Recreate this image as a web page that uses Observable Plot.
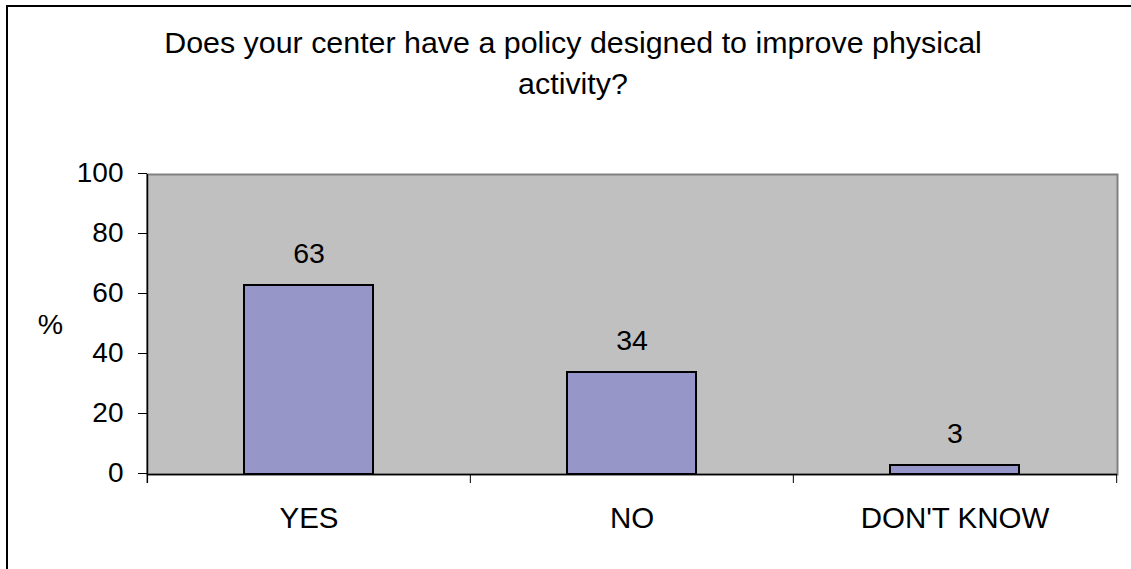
<!DOCTYPE html>
<html>
<head>
<meta charset="utf-8">
<script src="https://cdn.jsdelivr.net/npm/d3@7"></script>
<script src="https://cdn.jsdelivr.net/npm/@observablehq/plot@0.6"></script>
<style>
  html, body { margin: 0; padding: 0; background: #fff; overflow: hidden; }
  #wrap { position: relative; width: 1131px; height: 569px; overflow: hidden; font-family: "Liberation Sans", Arial, sans-serif; }
  #border { position: absolute; left: 6px; top: 5px; width: 1300px; height: 800px; border-left: 2px solid #000; border-top: 2px solid #000; }
  #title { position: absolute; left: 73px; width: 1000px; top: 22px; text-align: center; font-size: 30.4px; line-height: 40.5px; color: #000; white-space: nowrap; }
  #chart { position: absolute; left: 0; top: 0; }
</style>
</head>
<body>
<div id="wrap">
  <div id="border"></div>
  <div id="chart"></div>
  <div id="title">Does your center have a policy designed to improve physical<br>activity?</div>
</div>
<script>
const categories = ["YES", "NO", "DON'T KNOW"];
const values = [63, 34, 3];
const yTicks = [0, 20, 40, 60, 80, 100];
const yLabel = "%";

const data = categories.map((c, i) => ({category: c, value: values[i]}));

const W = 1131, H = 569, ml = 147, mr = 14, mt = 174, mb = 95;
const step = (W - ml - mr) / categories.length;
const last = categories[categories.length - 1];

const chart = Plot.plot({
  width: W,
  height: H,
  marginLeft: ml,
  marginRight: mr,
  marginTop: mt,
  marginBottom: mb,
  style: {fontFamily: '"Liberation Sans", Arial, sans-serif', fontSize: "28px", color: "#000", background: "transparent", overflow: "visible"},
  x: {domain: categories, paddingInner: 0.6, paddingOuter: 0.3},
  y: {domain: [0, 100]},
  marks: [
    Plot.frame({fill: "#C0C0C0", stroke: "#808080", strokeWidth: 2}),
    Plot.barY(data, {x: "category", y: "value", fill: "#9696C8", stroke: "#000", strokeWidth: 2}),
    Plot.text(data, {x: "category", y: "value", text: d => String(d.value), lineAnchor: "bottom", dy: -23, fill: "#000", fontSize: 28.5}),
    Plot.ruleY([0], {stroke: "#000", strokeWidth: 1.5}),
    Plot.ruleX(categories, {x: d => d, dx: -step / 2, y1: -3, y2: d => d === categories[0] ? 100 : 0, stroke: "#000", strokeWidth: d => d === categories[0] ? 1.5 : 1}),
    Plot.ruleX([last], {x: d => d, dx: step / 2, y1: -3, y2: 0, stroke: "#000", strokeWidth: 1}),
    Plot.axisY({ticks: yTicks, tickSize: 9, tickPadding: 15, label: null, tickFormat: d => String(d), dy: -1}),
    Plot.axisX({tickSize: 0, tickPadding: 33, label: null, fontSize: 29.5}),
    Plot.text([yLabel], {frameAnchor: "left", textAnchor: "middle", dx: -97, text: d => d, fill: "#000", fontSize: 28.5})
  ]
});
document.getElementById("chart").appendChild(chart);
</script>
</body>
</html>
